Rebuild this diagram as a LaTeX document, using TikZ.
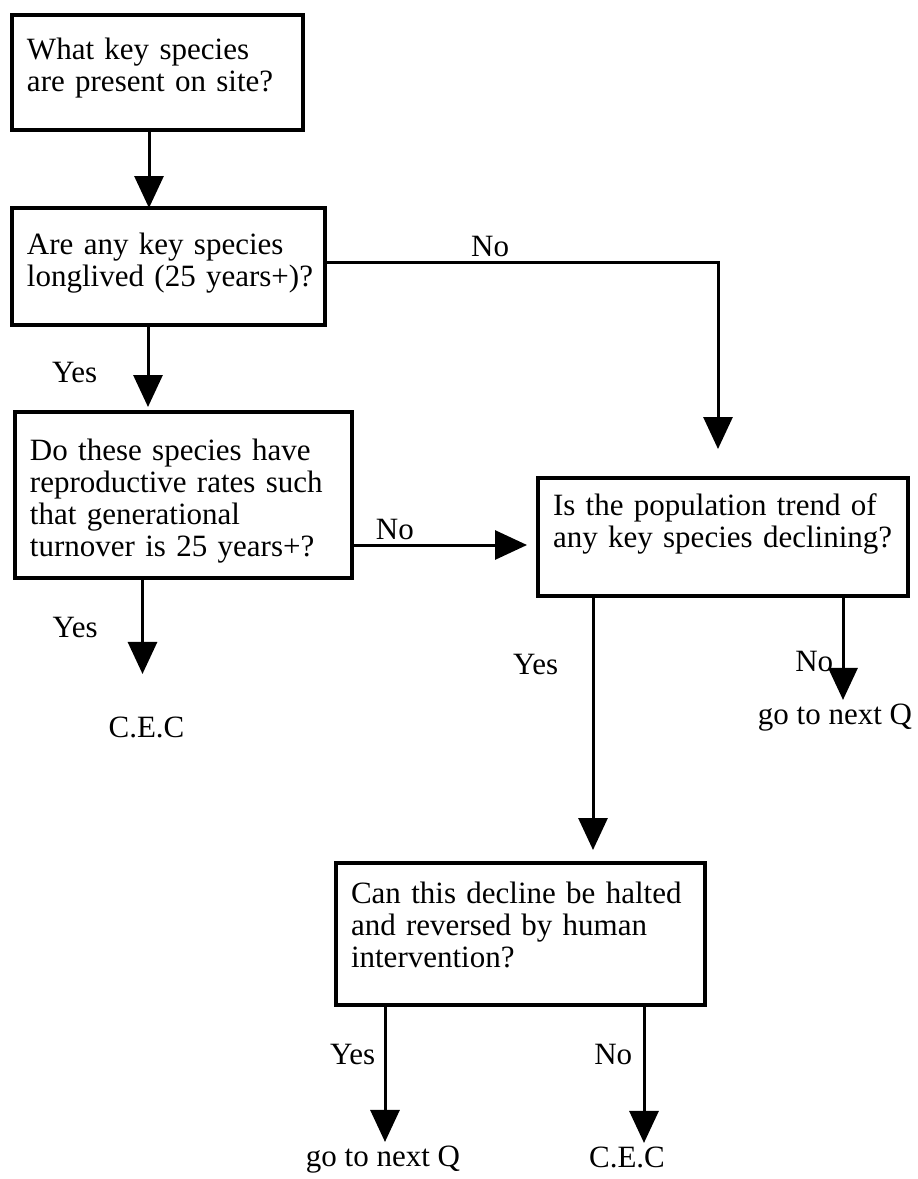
\documentclass[tikz,border=0pt]{standalone}
\usepackage{fontspec}
\setmainfont{Liberation Serif}
\usepackage{tikz}
\usetikzlibrary{arrows.meta,positioning}

\begin{document}
\begin{tikzpicture}[x=1pt,y=-1pt,font=\fontsize{31}{32}\selectfont,>={Triangle[length=32pt,width=29pt]},
  qbox/.style={draw,line width=3.2pt,anchor=north west,align=left,outer sep=0pt,inner xsep=15pt,inner ysep=0pt,text width=#1},
  flow/.style={->,line width=3pt}]
  \useasboundingbox (0,0) rectangle (918,1179);
  \node[qbox=261pt,text height=44pt,text depth=71pt] (q1) at (12,15) {What key species\\are present on site?};
  \node[qbox=283pt,text height=46pt,text depth=71pt] (q2) at (12,208) {Are any key species\\\mbox{longlived (25 years+)?}};
  \node[qbox=307pt,text height=48pt,text depth=118pt] (q3) at (15,412) {Do these species have\\reproductive rates such\\that generational\\turnover is 25 years+?};
  \node[qbox=340pt,text height=37pt,text depth=81pt] (q4) at (538,478) {Is the population trend of\\any key species declining?};
  \node[qbox=339pt,text height=40pt,text depth=102pt] (q5) at (336,863) {Can this decline be halted\\and reversed by human\\intervention?};
  \node[anchor=base] (cec1) at (146.5,737) {C.E.C};
  \node[anchor=base] (next1) at (835,724) {go to next Q};
  \node[anchor=base] (next2) at (383,1166) {go to next Q};
  \node[anchor=base] (cec2) at (627,1167) {C.E.C};
  \coordinate (a1) at ([xshift=-8.5pt]q1.south);
  \coordinate (a2) at ([yshift=4.5pt]q2.east);
  \coordinate (a2end) at ([xshift=-5pt,yshift=29pt]q4.north);
  \coordinate (a3) at ([xshift=-20.5pt]q2.south);
  \coordinate (a3end) at ([yshift=5pt]q3.north);
  \coordinate (a4) at ([yshift=-50pt]q3.east);
  \coordinate (a4end) at ([xshift=-11pt]q4.west);
  \coordinate (a5) at ([xshift=-41pt]q3.south);
  \coordinate (a5end) at ([yshift=39pt]cec1.north);
  \coordinate (a6) at ([xshift=-130pt]q4.south);
  \coordinate (a6end) at ([yshift=13pt]q5.north);
  \coordinate (a7) at ([xshift=120pt]q4.south);
  \coordinate (a8) at ([xshift=-135.5pt]q5.south);
  \coordinate (a9) at ([xshift=123.5pt]q5.south);
  \draw[flow] (a1) -- (a1 |- q2.north);
  \draw[flow] (a2) -| node[above,pos=0.21]{No} (a2end);
  \draw[flow] (a3) -- node[left=46pt,pos=0.585]{Yes} (a3 |- a3end);
  \draw[flow] (a4) -- node[above,pos=0.245]{No} (a4 -| a4end);
  \draw[flow] (a5) -- node[left=40pt,pos=0.52]{Yes} (a5 |- a5end);
  \draw[flow] (a6) -- node[left=30pt,pos=0.27]{Yes} (a6 |- a6end);
  \draw[flow] (a7) -- node[left=5pt,pos=0.63]{No} (a7 |- next1.north);
  \draw[flow] (a8) -- node[left=5pt,pos=0.36]{Yes} (a8 |- next2.north);
  \draw[flow] (a9) -- node[left=7pt,pos=0.36]{No} (a9 |- cec2.north);
\end{tikzpicture}
\end{document}
